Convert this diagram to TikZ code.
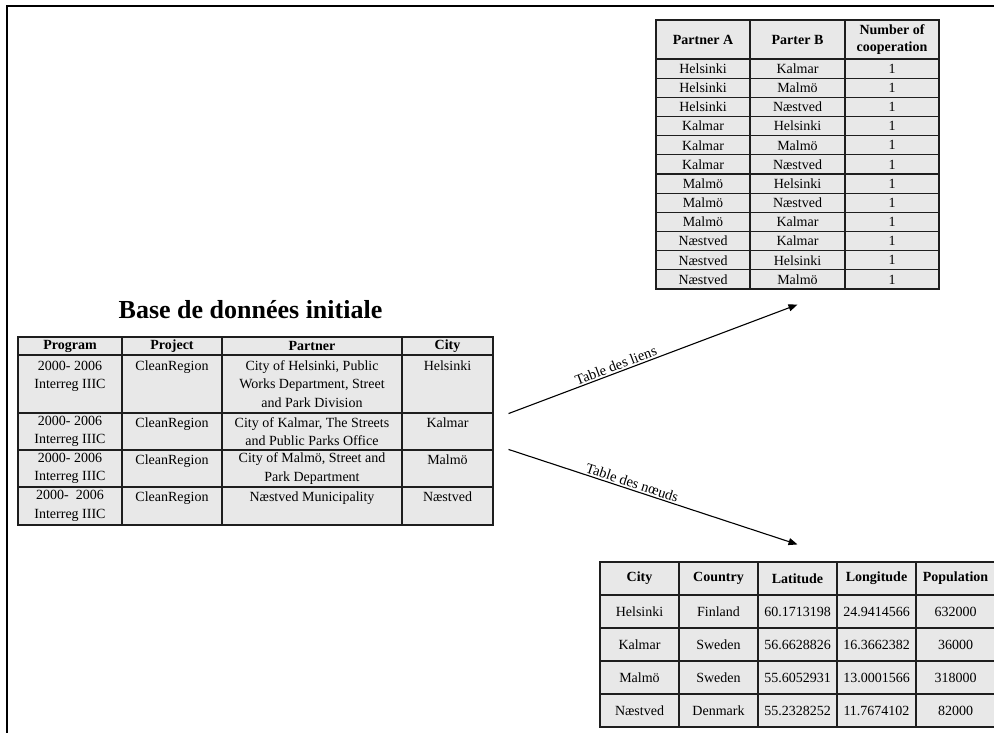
\documentclass[tikz,border=0pt]{standalone}
\usepackage{fontspec}
\setmainfont{Liberation Serif}
\usetikzlibrary{arrows.meta, positioning}
\definecolor{cellgray}{RGB}{232,232,232}
\definecolor{ink}{RGB}{30,30,30}
\newcommand{\cellfont}{\fontsize{14}{18.3}\selectfont}
\tikzstyle{cell}=[draw=ink, fill=cellgray, line width=1.1pt, rectangle, inner sep=0pt, align=center, font=\cellfont]
\tikzstyle{head}=[cell, font=\cellfont\bfseries]
\tikzstyle{flow}=[draw=black, line width=1.1pt, -{Triangle[length=9pt, width=7pt]}]
\tikzstyle{flowlabel}=[font=\fontsize{14.5}{16}\selectfont, sloped, above, inner sep=1.5pt]
\tikzstyle{frame}=[draw=black, line width=2pt]

\begin{document}
\begin{tikzpicture}[x=1pt, y=-1pt]
\useasboundingbox (0,0) rectangle (994,733);
\draw[frame] (7,735) -- (7,6) -- (996,6);

% Base de données initiale
\node[font=\fontsize{26}{30}\selectfont\bfseries, anchor=base] (title) at (250.5,318) {Base de données initiale};

\node[head, minimum width=104pt, minimum height=18pt] (db-h-1) at (70,346) {Program};
\node[head, minimum width=100pt, minimum height=18pt] (db-h-2) at (172,346) {Project};
\node[head, minimum width=180pt, minimum height=18pt] (db-h-3) at (312,346) {Partner};
\node[head, minimum width=91pt, minimum height=18pt] (db-h-4) at (447.5,346) {City};

\node[cell, minimum width=104pt, minimum height=58pt] (db-1-1) at (70,384) {2000- 2006\\Interreg IIIC\\~};
\node[cell, minimum width=100pt, minimum height=58pt] (db-1-2) at (172,384) {CleanRegion\\~\\~};
\node[cell, minimum width=180pt, minimum height=58pt] (db-1-3) at (312,384) {City of Helsinki, Public\\Works Department, Street\\and Park Division};
\node[cell, minimum width=91pt, minimum height=58pt] (db-1-4) at (447.5,384) {Helsinki\\~\\~};

\node[cell, minimum width=104pt, minimum height=37pt] (db-2-1) at (70,431.5) {2000- 2006\\Interreg IIIC};
\node[cell, minimum width=100pt, minimum height=37pt] (db-2-2) at (172,431.5) {CleanRegion\\~};
\node[cell, minimum width=180pt, minimum height=37pt] (db-2-3) at (312,431.5) {City of Kalmar, The Streets\\and Public Parks Office};
\node[cell, minimum width=91pt, minimum height=37pt] (db-2-4) at (447.5,431.5) {Kalmar\\~};

\node[cell, minimum width=104pt, minimum height=37pt] (db-3-1) at (70,468.5) {2000- 2006\\Interreg IIIC};
\node[cell, minimum width=100pt, minimum height=37pt] (db-3-2) at (172,468.5) {CleanRegion\\~};
\node[cell, minimum width=180pt, minimum height=37pt] (db-3-3) at (312,468.5) {City of Malmö, Street and\\Park Department};
\node[cell, minimum width=91pt, minimum height=37pt] (db-3-4) at (447.5,468.5) {Malmö\\~};

\node[cell, minimum width=104pt, minimum height=38pt] (db-4-1) at (70,506) {2000-\ \ 2006\\Interreg IIIC};
\node[cell, minimum width=100pt, minimum height=38pt] (db-4-2) at (172,506) {CleanRegion\\~};
\node[cell, minimum width=180pt, minimum height=38pt] (db-4-3) at (312,506) {Næstved Municipality\\~};
\node[cell, minimum width=91pt, minimum height=38pt] (db-4-4) at (447.5,506) {Næstved\\~};

% Table des liens
\node[head, minimum width=94pt, minimum height=39pt] (links-h-1) at (703,39.5) {Partner A};
\node[head, minimum width=95pt, minimum height=39pt] (links-h-2) at (797.5,39.5) {Parter B};
\node[head, minimum width=94pt, minimum height=39pt, font=\fontsize{14}{17}\selectfont\bfseries] (links-h-3) at (892,39.5) {Number of\\cooperation};

\foreach \a/\b [count=\i] in {Helsinki/Kalmar, Helsinki/Malmö, Helsinki/Næstved, Kalmar/Helsinki, Kalmar/Malmö, Kalmar/Næstved, Malmö/Helsinki, Malmö/Næstved, Malmö/Kalmar, Næstved/Kalmar, Næstved/Helsinki, Næstved/Malmö}
{
	\node[cell, minimum width=94pt, minimum height=19.17pt] (links-\i-1) at (703,{59+19.17*(\i-0.5)}) {\a};
	\node[cell, minimum width=95pt, minimum height=19.17pt] (links-\i-2) at (797.5,{59+19.17*(\i-0.5)}) {\b};
	\node[cell, minimum width=94pt, minimum height=19.17pt] (links-\i-3) at (892,{59+19.17*(\i-0.5)}) {1};
}

% Table des noeuds
\foreach \h [count=\j] in {City, Country, Latitude, Longitude, Population}
	\node[head, minimum width=79pt, minimum height=33pt] (nodes-h-\j) at ({600+79*(\j-0.5)},578.5) {\h};

\foreach \c/\k/\la/\lo/\p [count=\i] in {Helsinki/Finland/60.1713198/24.9414566/632000, Kalmar/Sweden/56.6628826/16.3662382/36000, Malmö/Sweden/55.6052931/13.0001566/318000, Næstved/Denmark/55.2328252/11.7674102/82000}
{
	\node[cell, minimum width=79pt, minimum height=33pt] (nodes-\i-1) at (639.5,{562+33*(\i+0.5)}) {\c};
	\node[cell, minimum width=79pt, minimum height=33pt] (nodes-\i-2) at (718.5,{562+33*(\i+0.5)}) {\k};
	\node[cell, minimum width=79pt, minimum height=33pt] (nodes-\i-3) at (797.5,{562+33*(\i+0.5)}) {\la};
	\node[cell, minimum width=79pt, minimum height=33pt] (nodes-\i-4) at (876.5,{562+33*(\i+0.5)}) {\lo};
	\node[cell, minimum width=79pt, minimum height=33pt] (nodes-\i-5) at (955.5,{562+33*(\i+0.5)}) {\p};
}

% fleches
\coordinate[right=15pt of db-1-4.south east] (liens-from);
\coordinate[below=15pt of links-12-2] (liens-to);
\coordinate[right=15pt of db-3-4.north east] (noeuds-from);
\coordinate[above=17pt of nodes-h-3] (noeuds-to);

\draw[flow] (liens-from) -- node[flowlabel, pos=0.38] (liens-label) {Table des liens} (liens-to);
\draw[flow] (noeuds-from) -- node[flowlabel, pos=0.42] (noeuds-label) {Table des nœuds} (noeuds-to);
\end{tikzpicture}
\end{document}
